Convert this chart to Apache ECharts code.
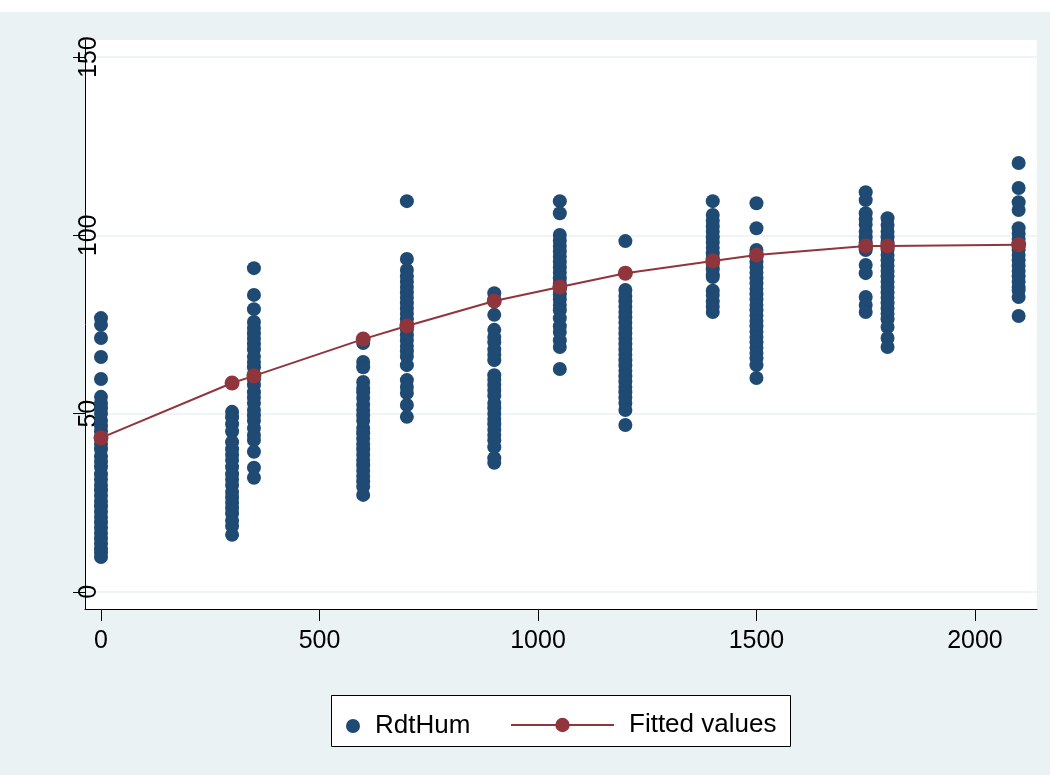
<!DOCTYPE html>
<html>
<head>
<meta charset="utf-8">
<script src="https://cdn.jsdelivr.net/npm/echarts@6/dist/echarts.min.js"></script>
<style>
  html, body { margin: 0; padding: 0; background: #fff; }
  #chart { width: 1050px; height: 775px; }
</style>
</head>
<body>
<div id="chart"></div>
<script>
// scatter columns: x level -> observed RdtHum values
const xLevels = [0, 300, 350, 600, 700, 900, 1050, 1200, 1400, 1500, 1750, 1800, 2100];
const rdtHum = [
  [76.8, 74.9, 71.2, 65.9, 59.7, 54.7, 53, 51.5, 50, 48, 46.5, 45, 43, 41.5, 40, 38, 36.5, 35, 33, 31.5, 30, 28.5, 27, 25.5, 24, 22.5, 21, 19.5, 18, 16.5, 15, 13.5, 12, 11, 9.8],
  [50.5, 49, 47, 45, 42, 40, 38.5, 37, 35, 33, 31.5, 30, 28, 26.5, 25, 23.5, 22, 20, 18.5, 16],
  [90.8, 83.3, 79.3, 75.7, 74, 72.5, 71, 69.5, 68, 66, 64.5, 63, 61, 59.5, 58, 56, 54.5, 53, 51, 49.5, 48, 46, 44, 42.6, 39.3, 34.8, 32],
  [69.8, 64.5, 63, 58.9, 57.2, 56, 54.4, 52.5, 51, 49.5, 48, 46, 44.5, 43, 41.5, 40, 38.5, 37, 35.5, 34, 32.5, 31, 29.5, 27.2],
  [109.6, 93.4, 90.3, 88.5, 87, 85.5, 84, 82.5, 81, 79.5, 78, 76.5, 75, 73.5, 72, 70.5, 69, 67.5, 66, 63.6, 59.4, 57.5, 55.8, 52.4, 49.1],
  [83.8, 82, 77.7, 73.5, 71.5, 70, 68, 66.5, 65, 60.8, 59.5, 58, 56.5, 55, 53, 51.5, 50, 48.5, 47, 45.5, 44, 42.5, 40.6, 37.5, 36.2],
  [109.6, 106.2, 100.1, 98.5, 97, 95.5, 94, 92.5, 91, 89.5, 88, 86.5, 85, 83.5, 82, 80.5, 79, 76.8, 74.5, 72.9, 70.5, 68.7, 62.5],
  [98.4, 84.7, 83, 81.5, 80, 78.5, 77, 75.5, 74, 72.5, 71, 69.5, 68, 66.5, 65, 63.5, 62, 60.5, 59, 57.5, 56, 54.5, 53, 51, 46.8],
  [109.6, 105.7, 104, 102.5, 101, 99.5, 98, 96.5, 95, 93.5, 92, 90.5, 89, 88.3, 84.5, 83.3, 81.5, 80, 78.5],
  [109, 102, 95.9, 94, 92.5, 91, 89.5, 88, 86.5, 85, 83.5, 82, 80.5, 79, 77.5, 76, 74.5, 73, 71.5, 70, 68.5, 67, 65.5, 63.6, 60],
  [112.1, 109.9, 106.2, 104.5, 103, 101, 99.5, 98, 96.5, 95.9, 91.7, 89.4, 82.7, 80.5, 78.5],
  [104.8, 102.9, 101, 99.5, 98, 96, 94.5, 93, 91.5, 90, 88.5, 87, 85.5, 84, 82.5, 81, 79.5, 78, 76.5, 74.3, 71.2, 68.7],
  [120.3, 113.3, 109.3, 107.1, 102, 100.5, 99, 97.5, 96, 94.5, 93, 91.5, 90, 88.5, 87, 85.5, 84.7, 82.7, 77.4]
];
const fitted = [43.2, 58.6, 60.6, 70.9, 74.6, 81.6, 85.5, 89.4, 92.8, 94.5, 97.0, 97.0, 97.4];
const xTicks = [0, 500, 1000, 1500, 2000];
const yTicks = [0, 50, 100, 150];

const bg = '#EAF2F3';
const navy = '#1F4A73';
const maroon = '#90353B';
const font = 'Liberation Sans, Arial, sans-serif';

const scatterData = [];
xLevels.forEach((x, i) => {
    rdtHum[i].forEach(v => scatterData.push([x, v]));
});
const fittedData = xLevels.map((x, i) => [x, fitted[i]]);

const chart = echarts.init(document.getElementById('chart'));
chart.setOption({
    backgroundColor: bg,
    animation: false,
    graphic: [
        { type: 'rect', left: 0, top: 0, shape: { width: 1050, height: 12 }, style: { fill: '#fff' }, z: 0 },
        { type: 'rect', left: 331, top: 695, shape: { width: 459, height: 51 }, style: { fill: '#fff', stroke: '#000', lineWidth: 1 }, z: 0 }
    ],
    grid: {
        left: 85, right: 13, top: 40, bottom: 166,
        show: true, backgroundColor: '#fff', borderWidth: 0
    },
    legend: [
        {
            data: [{ name: 'RdtHum', icon: 'circle' }],
            left: 341, top: 708,
            itemWidth: 14, itemHeight: 14,
            textStyle: { fontFamily: font, fontSize: 26, color: '#000', padding: [0, 0, 0, 10] },
            z: 5
        },
        {
            data: ['Fitted values'],
            left: 505, top: 707,
            itemWidth: 103, itemHeight: 18,
            textStyle: { fontFamily: font, fontSize: 26, color: '#000', padding: [0, 0, 0, 10] },
            z: 5
        }
    ],
    xAxis: {
        type: 'value',
        min: -36.6, max: 2142,
        axisLine: { show: true, onZero: false, lineStyle: { color: '#000', width: 1 } },
        axisTick: { show: true, length: 12, customValues: xTicks, lineStyle: { color: '#000' } },
        axisLabel: { customValues: xTicks, margin: 20, fontFamily: font, fontSize: 25, color: '#000', formatter: v => String(v) },
        splitLine: { show: false }
    },
    yAxis: {
        type: 'value',
        min: -4.8, max: 154.8,
        axisLine: { show: true, onZero: false, lineStyle: { color: '#000', width: 1 } },
        axisTick: { show: true, length: 12, customValues: yTicks, lineStyle: { color: '#000' } },
        axisLabel: { customValues: yTicks, rotate: 90, margin: -17, fontFamily: font, fontSize: 25, color: '#000', formatter: v => String(v) },
        splitLine: { show: true, lineStyle: { color: bg, width: 1.5 } }
    },
    series: [
        {
            name: 'RdtHum',
            type: 'scatter',
            data: scatterData,
            symbol: 'circle',
            symbolSize: 14,
            itemStyle: { color: navy, opacity: 1 },
            z: 2
        },
        {
            name: 'Fitted values',
            type: 'line',
            data: fittedData,
            symbol: 'circle',
            symbolSize: 15,
            showSymbol: true,
            lineStyle: { color: maroon, width: 2 },
            itemStyle: { color: maroon },
            z: 3
        }
    ]
});
</script>
</body>
</html>
